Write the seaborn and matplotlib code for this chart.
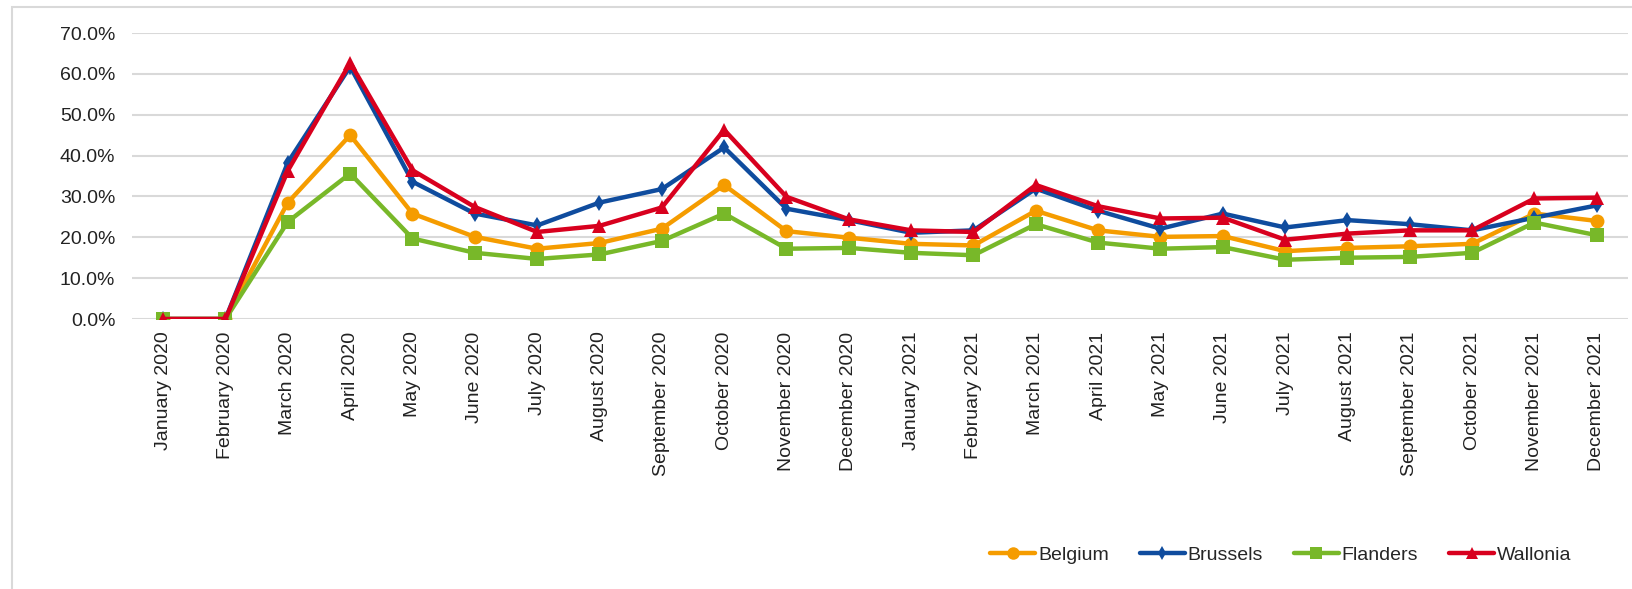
import numpy as np
import pandas as pd
import matplotlib
matplotlib.use("Agg")
import matplotlib.pyplot as plt
import seaborn as sns
from matplotlib.patches import Rectangle
from matplotlib.ticker import PercentFormatter

months = ["January 2020", "February 2020", "March 2020", "April 2020", "May 2020", "June 2020",
          "July 2020", "August 2020", "September 2020", "October 2020", "November 2020", "December 2020",
          "January 2021", "February 2021", "March 2021", "April 2021", "May 2021", "June 2021",
          "July 2021", "August 2021", "September 2021", "October 2021", "November 2021", "December 2021"]

belgium = [0.0, 0.0, 28.5, 45.0, 25.8, 20.1, 17.2, 18.6, 22.1, 32.8, 21.5, 19.9,
           18.4, 18.0, 26.5, 21.7, 20.1, 20.3, 16.6, 17.4, 17.8, 18.4, 25.8, 24.0]
brussels = [0.0, 0.0, 38.3, 61.8, 33.6, 25.8, 22.9, 28.5, 31.8, 42.0, 27.0, 24.2,
            21.1, 21.7, 31.9, 26.5, 22.1, 25.8, 22.4, 24.2, 23.2, 21.7, 24.8, 27.8]
flanders = [0.0, 0.0, 23.8, 35.6, 19.7, 16.2, 14.7, 15.8, 19.1, 25.8, 17.2, 17.4,
            16.2, 15.6, 23.2, 18.7, 17.2, 17.6, 14.5, 15.0, 15.2, 16.2, 23.6, 20.5]
wallonia = [0.0, 0.0, 36.3, 62.7, 36.4, 27.4, 21.3, 22.8, 27.3, 46.3, 29.9, 24.4,
            21.7, 21.3, 32.8, 27.6, 24.6, 24.8, 19.4, 20.9, 21.7, 21.7, 29.5, 29.7]

regions = ["Belgium", "Brussels", "Flanders", "Wallonia"]
series = [belgium, brussels, flanders, wallonia]

df = pd.concat([
    pd.DataFrame({"idx": np.arange(len(months)), "value": vals, "Region": name})
    for name, vals in zip(regions, series)
], ignore_index=True)

palette = {"Belgium": "#F59C00", "Brussels": "#0F4C9E", "Flanders": "#78B829", "Wallonia": "#D8001E"}
markers = {"Belgium": "o", "Brussels": "d", "Flanders": "s", "Wallonia": "^"}
msizes = {"Belgium": 10, "Brussels": 8, "Flanders": 10, "Wallonia": 10}

sns.set_theme(style="white")
plt.rcParams["font.family"] = ["Liberation Sans", "DejaVu Sans"]

fig = plt.figure(figsize=(16.33, 5.89), dpi=100)
ax = fig.add_axes([132/1633, 1 - 319/589, 1496/1633, (319 - 33)/589])

for name in regions:
    sub = df[df["Region"] == name]
    sns.lineplot(data=sub, x="idx", y="value", ax=ax, color=palette[name],
                 marker=markers[name], markersize=msizes[name], markeredgewidth=0,
                 linewidth=3.2, label=name, zorder=3)

ax.set_xlim(-0.5, len(months) - 0.5)
ax.set_ylim(0, 70)
ax.set_yticks(np.arange(0, 71, 10))
ax.yaxis.set_major_formatter(PercentFormatter(decimals=1))
ax.set_xticks(np.arange(len(months)))
ax.set_xticklabels(months, rotation=90, va="top", ha="center")
ax.tick_params(axis="y", length=0, pad=12, labelsize=14, labelcolor="#222222")
ax.tick_params(axis="x", length=0, pad=9, labelsize=14, labelcolor="#222222")
ax.set_xlabel("")
ax.set_ylabel("")
for s in ax.spines.values():
    s.set_visible(False)
ax.grid(axis="y", color="#d9d9d9", linewidth=1.5, zorder=0)
ax.set_axisbelow(True)

ax.legend_.remove() if ax.legend_ else None
handles, labels = ax.get_legend_handles_labels()
fig.legend(handles, labels, loc="center", bbox_to_anchor=(1281/1633, 1 - 555/589), ncol=4,
           frameon=False, fontsize=14, handlelength=2.3, handletextpad=0.15, columnspacing=1.6,
           markerscale=0.9)

fig.patches.append(Rectangle((12/1633, -0.05), 1.1, 1 - 7/589 + 0.05, transform=fig.transFigure,
                             fill=False, edgecolor="#d9d9d9", linewidth=1.5, zorder=0))

fig.savefig("out.png", dpi=100)
